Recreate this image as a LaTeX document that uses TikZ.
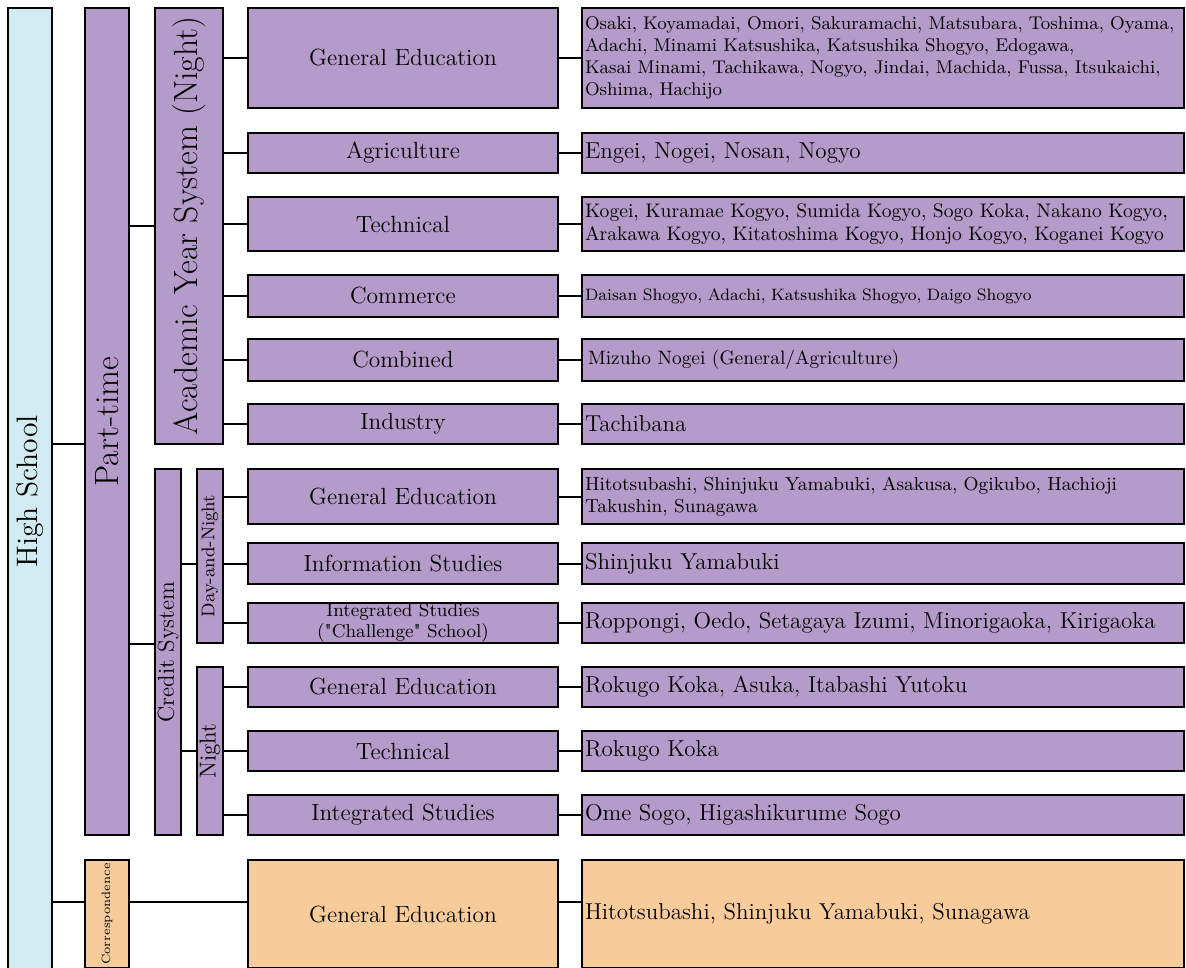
\documentclass[tikz,border=0pt]{standalone}
\usepackage{fontspec}

\definecolor{purp}{HTML}{B59BC9}
\definecolor{sky}{HTML}{D2EBF0}
\definecolor{peach}{HTML}{F8CB9B}

\tikzset{
  box/.style={draw, line width=1pt, fill=purp, inner sep=0pt},
  tall/.style 2 args={box, minimum width=#1, minimum height=#2},
  mid/.style={box, minimum width=155pt, minimum height=#1, align=center,
    font=\fontsize{11.7}{13}\selectfont},
  list/.style={box, text width=298pt, inner xsep=1.5pt, minimum height=#1,
    align=left, font=\fontsize{11.5}{13}\selectfont},
  small/.style={font=\fontsize{9.2}{11}\selectfont},
  link/.style={line width=1pt},
}

\begin{document}
\begin{tikzpicture}[x=0.5pt, y=-0.5pt]

  \useasboundingbox (0,0) rectangle (1186,967);
  \clip (0,0) rectangle (1186,967);

  % school types
  \node[tall={22pt}{483.5pt}, fill=sky, font=\fontsize{14.8}{16}\selectfont] (hs) at (30,491.5) {\rotatebox{90}{High School}};
  \node[tall={22pt}{413.5pt}, font=\fontsize{16.8}{18}\selectfont] (pt) at (107,421.5) {\rotatebox{90}{Part-time}};
  \node[tall={22pt}{54pt}, fill=peach, font=\fontsize{6}{7}\selectfont] (corr) at (107,914) {\rotatebox{90}{Correspondence}};

  % systems
  \node[tall={34pt}{218pt}, font=\fontsize{16.8}{18}\selectfont] (acad) at (189,226) {\rotatebox{90}{Academic Year System (Night)}};
  \node[tall={13pt}{183pt}, font=\fontsize{11.5}{13}\selectfont] (cred) at (168,652) {\rotatebox{90}{Credit System}};
  \node[tall={13pt}{87pt}, font=\fontsize{9.2}{11}\selectfont] (dn) at (210,556) {\rotatebox{90}{Day-and-Night}};
  \node[tall={13pt}{84pt}, font=\fontsize{11.5}{13}\selectfont] (night) at (210,751) {\rotatebox{90}{Night}};

  % courses
  \node[mid=50pt] (m1) at (403,58) {General Education};
  \node[mid=20pt] (m2) at (403,153) {Agriculture};
  \node[mid=27pt] (m3) at (403,224) {Technical};
  \node[mid=21pt] (m4) at (403,296) {Commerce};
  \node[mid=21pt] (m5) at (403,360) {Combined};
  \node[mid=20pt] (m6) at (403,424) {Industry};
  \node[mid=27.5pt] (m7) at (403,496.5) {General Education};
  \node[mid=20.5pt] (m8) at (403,563.5) {Information Studies};
  \node[mid=20pt, font=\fontsize{9.3}{10.5}\selectfont] (m9) at (403,623) {Integrated Studies\\(\textquotedbl Challenge\textquotedbl{} School)};
  \node[mid=20pt] (m10) at (403,687) {General Education};
  \node[mid=20pt] (m11) at (403,751) {Technical};
  \node[mid=20pt] (m12) at (403,815) {Integrated Studies};
  \node[mid=54pt, fill=peach] (m13) at (403,914) {General Education};

  % schools
  \node[list=50pt, small] (r1) at (883,58) {Osaki, Koyamadai, Omori, Sakuramachi, Matsubara, Toshima, Oyama,\\Adachi, Minami Katsushika, Katsushika Shogyo, Edogawa,\\Kasai Minami, Tachikawa, Nogyo, Jindai, Machida, Fussa, Itsukaichi,\\Oshima, Hachijo};
  \node[list=20pt] (r2) at (883,153) {Engei, Nogei, Nosan, Nogyo};
  \node[list=27pt, font=\fontsize{9.8}{11.5}\selectfont] (r3) at (883,224) {Kogei, Kuramae Kogyo, Sumida Kogyo, Sogo Koka, Nakano Kogyo,\\Arakawa Kogyo, Kitatoshima Kogyo, Honjo Kogyo, Koganei Kogyo};
  \node[list=21pt, font=\fontsize{8.25}{10}\selectfont] (r4) at (883,296) {Daisan Shogyo, Adachi, Katsushika Shogyo, Daigo Shogyo};
  \node[list=21pt, font=\fontsize{9.7}{11}\selectfont] (r5) at (883,360) {\hspace*{1.5pt}Mizuho Nogei (General/Agriculture)};
  \node[list=20pt] (r6) at (883,424) {Tachibana};
  \node[list=27.5pt, font=\fontsize{9.4}{11}\selectfont] (r7) at (883,496.5) {Hitotsubashi, Shinjuku Yamabuki, Asakusa, Ogikubo, Hachioji\\Takushin, Sunagawa};
  \node[list=20.5pt] (r8) at (883,563.5) {Shinjuku Yamabuki};
  \node[list=20pt] (r9) at (883,623) {Roppongi, Oedo, Setagaya Izumi, Minorigaoka, Kirigaoka};
  \node[list=20pt] (r10) at (883,687) {Rokugo Koka, Asuka, Itabashi Yutoku};
  \node[list=20pt] (r11) at (883,751) {Rokugo Koka};
  \node[list=20pt] (r12) at (883,815) {Ome Sogo, Higashikurume Sogo};
  \node[list=54pt, fill=peach] (r13) at (883,914) {Hitotsubashi, Shinjuku Yamabuki, Sunagawa};

  % connectors
  \draw[link] (hs.east |- 0,444) -- (pt.west |- 0,444);
  \draw[link] (hs.east |- 0,902) -- (corr.west |- 0,902);
  \draw[link] (pt.east |- acad.west) -- (acad.west);
  \draw[link] (pt.east |- 0,644) -- (cred.west |- 0,644);
  \draw[link] (cred.east |- 0,564) -- (dn.west |- 0,564);
  \draw[link] (cred.east |- night.west) -- (night.west);
  \foreach \i in {1,...,6} \draw[link] (acad.east |- m\i.west) -- (m\i.west);
  \foreach \i in {7,8,9} \draw[link] (dn.east |- m\i.west) -- (m\i.west);
  \foreach \i in {10,11,12} \draw[link] (night.east |- m\i.west) -- (m\i.west);
  \foreach \i in {1,...,12} \draw[link] (m\i.east) -- (r\i.west);
  \draw[link] (corr.east |- 0,902) -- (m13.west |- 0,902);
  \draw[link] (m13.east |- 0,902) -- (r13.west |- 0,902);

\end{tikzpicture}
\end{document}
